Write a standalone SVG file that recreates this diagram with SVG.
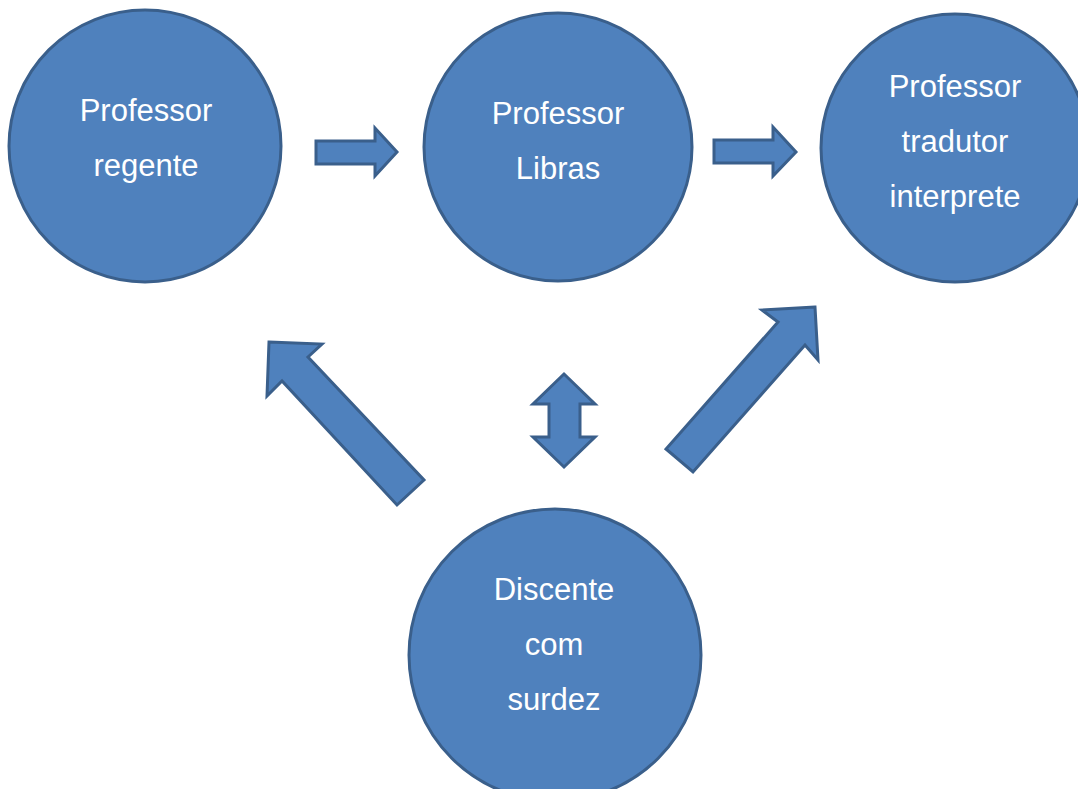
<svg xmlns="http://www.w3.org/2000/svg" width="1078" height="789" viewBox="0 0 1078 789">
<style>
.node{fill:#4F81BD;stroke:#3A5F8B;stroke-width:3}
.arrow{fill:#4F81BD;stroke:#3A5F8B;stroke-width:3;stroke-linejoin:miter}
.lbl{font-family:"Liberation Sans",Arial,sans-serif;font-size:31px;fill:#ffffff;text-anchor:middle}
</style>
<rect width="1078" height="789" fill="#ffffff"/>
<g id="connectors">
<polygon class="arrow" points="316,141 375,141 375,128 397,152 375,176 375,164 316,164"/>
<polygon class="arrow" points="714,140 773,140 773,127 796,152 773,176 773,163 714,163"/>
<polygon class="arrow" points="269,342 322,344 308,357 424,480 397,505 282,381 267,396"/>
<polygon class="arrow" points="815,307 762,310 778,322 666,449 693,472 805,345 818,360"/>
<polygon class="arrow" points="564,374 595,404 580,404 580,437 595,437 564,467 533,437 549,437 549,404 533,404"/>
</g>
<g id="node-regente">
<circle class="node" cx="145" cy="146" r="136"/>
<text class="lbl" x="146" y="121">Professor</text>
<text class="lbl" x="146" y="176">regente</text>
</g>
<g id="node-libras">
<circle class="node" cx="558" cy="147" r="134"/>
<text class="lbl" x="558" y="124">Professor</text>
<text class="lbl" x="558" y="179">Libras</text>
</g>
<g id="node-tradutor">
<circle class="node" cx="955" cy="148" r="134"/>
<text class="lbl" x="955" y="97">Professor</text>
<text class="lbl" x="955" y="152">tradutor</text>
<text class="lbl" x="955" y="207">interprete</text>
</g>
<g id="node-discente">
<circle class="node" cx="555" cy="655" r="146"/>
<text class="lbl" x="554" y="600">Discente</text>
<text class="lbl" x="554" y="655">com</text>
<text class="lbl" x="554" y="710">surdez</text>
</g>
</svg>
